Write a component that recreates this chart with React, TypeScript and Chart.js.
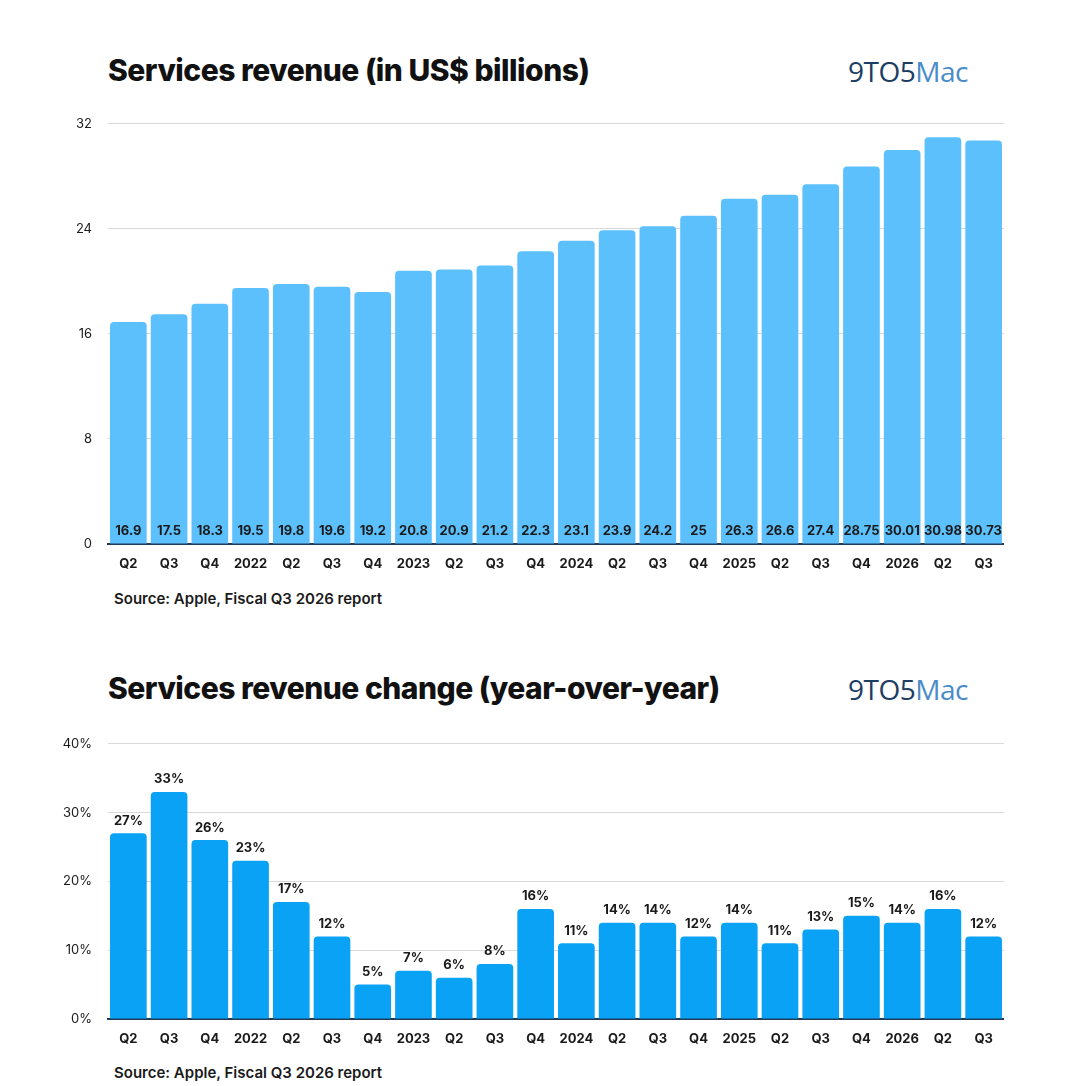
import React, { useEffect, useRef } from "react";
import { Chart, registerables } from "chart.js";
Chart.register(...registerables);

const categories = ["Q2","Q3","Q4","2022","Q2","Q3","Q4","2023","Q2","Q3","Q4","2024","Q2","Q3","Q4","2025","Q2","Q3","Q4","2026","Q2","Q3"];
const revenue = [16.9,17.5,18.3,19.5,19.8,19.6,19.2,20.8,20.9,21.2,22.3,23.1,23.9,24.2,25,26.3,26.6,27.4,28.75,30.01,30.98,30.73];
const growth = [27,33,26,23,17,12,5,7,6,8,16,11,14,14,12,14,11,13,15,14,16,12];
const revenueTicks = [0,8,16,24,32];
const growthTicks = [0,10,20,30,40];

const FONT = "Inter, 'Noto Sans', sans-serif";

function makeLabelPlugin(mode: "inside" | "top", fmt: (v: number) => string) {
  return {
    id: "lbl",
    afterDatasetsDraw(chart: any) {
      const ctx = chart.ctx;
      const meta = chart.getDatasetMeta(0);
      const data = chart.data.datasets[0].data as number[];
      ctx.save();
      ctx.font = `bold 13px ${FONT}`;
      ctx.fillStyle = "#1a1a1a";
      ctx.textAlign = "center";
      meta.data.forEach((bar: any, i: number) => {
        if (mode === "inside") {
          ctx.textBaseline = "middle";
          ctx.fillText(fmt(data[i]), bar.x, chart.chartArea.bottom - 13);
        } else {
          ctx.textBaseline = "bottom";
          ctx.fillText(fmt(data[i]), bar.x, bar.y - 6);
        }
      });
      ctx.restore();
    },
  };
}

function BarChart(props: { data: number[]; ticks: number[]; max: number; color: string; tickFmt: (v: number) => string; mode: "inside" | "top"; labelFmt: (v: number) => string; padTop: number }) {
  const ref = useRef<HTMLCanvasElement>(null);
  useEffect(() => {
    const chart = new Chart(ref.current!, {
      type: "bar",
      data: {
        labels: categories,
        datasets: [{
          data: props.data,
          backgroundColor: props.color,
          borderRadius: { topLeft: 4, topRight: 4, bottomLeft: 0, bottomRight: 0 },
          borderSkipped: "bottom",
          categoryPercentage: 0.9,
          barPercentage: 1,
        }],
      },
      options: {
        animation: false,
        responsive: false,
        maintainAspectRatio: false,
        layout: { padding: { top: props.padTop, right: 0, left: 0, bottom: 0 } },
        plugins: { legend: { display: false }, tooltip: { enabled: false } },
        scales: {
          x: {
            grid: { display: false },
            border: { display: true, color: "#1f3a5a", width: 2 },
            ticks: { color: "#1a1a1a", font: { family: FONT, size: 13, weight: "bold" }, maxRotation: 0, autoSkip: false, padding: 4 },
            afterFit: (s: any) => { s.height = 30; },
          },
          y: {
            min: 0, max: props.max,
            afterBuildTicks: (s: any) => { s.ticks = props.ticks.map((v) => ({ value: v })); },
            grid: { color: "#d9d9d9", drawTicks: false },
            border: { display: false },
            ticks: { color: "#1a1a1a", font: { family: FONT, size: 13 }, padding: 16, callback: (v: any) => props.tickFmt(Number(v)) },
            afterFit: (s: any) => { s.width = 68; },
          },
        },
      },
      plugins: [makeLabelPlugin(props.mode, props.labelFmt)],
    } as any);
    return () => chart.destroy();
  }, []);
  return <canvas ref={ref} width={964} height={props.mode === "inside" ? 474 : 329} style={{ width: 964, height: props.mode === "inside" ? 474 : 329 }} />;
}

function Logo({ top }: { top: number }) {
  return (
    <div style={{ position: "absolute", left: 848, top, fontFamily: "'Open Sans', sans-serif", fontSize: 28, letterSpacing: -0.5 }}>
      <span style={{ color: "#1d3e63" }}>9TO5</span><span style={{ color: "#4a8cc8" }}>Mac</span>
    </div>
  );
}

export default function App() {
  const title: React.CSSProperties = { position: "absolute", left: 108, fontFamily: FONT, fontWeight: 800, fontSize: 30, color: "#111", letterSpacing: -0.5, whiteSpace: "nowrap" };
  const src: React.CSSProperties = { position: "absolute", left: 114, fontFamily: FONT, fontWeight: 600, fontSize: 15, color: "#1a1a1a" };
  return (
    <div style={{ position: "fixed", left: 0, top: 0, width: 1080, height: 1086, background: "#fff" }}>
      <div style={{ ...title, top: 52 }}>Services revenue (in US$ billions)</div>
      <Logo top={52} />
      <div style={{ position: "absolute", left: 40, top: 100 }}>
        <BarChart data={revenue} ticks={revenueTicks} max={32} color="#5bc0fb" tickFmt={(v) => String(v)} mode="inside" labelFmt={(v) => String(v)} padTop={8} />
      </div>
      <div style={{ ...src, top: 589 }}>Source: Apple, Fiscal Q3 2026 report</div>

      <div style={{ ...title, top: 670 }}>Services revenue change (year-over-year)</div>
      <Logo top={670} />
      <div style={{ position: "absolute", left: 40, top: 720 }}>
        <BarChart data={growth} ticks={growthTicks} max={40} color="#0aa2f5" tickFmt={(v) => v + "%"} mode="top" labelFmt={(v) => v + "%"} padTop={9} />
      </div>
      <div style={{ ...src, top: 1063 }}>Source: Apple, Fiscal Q3 2026 report</div>
    </div>
  );
}
